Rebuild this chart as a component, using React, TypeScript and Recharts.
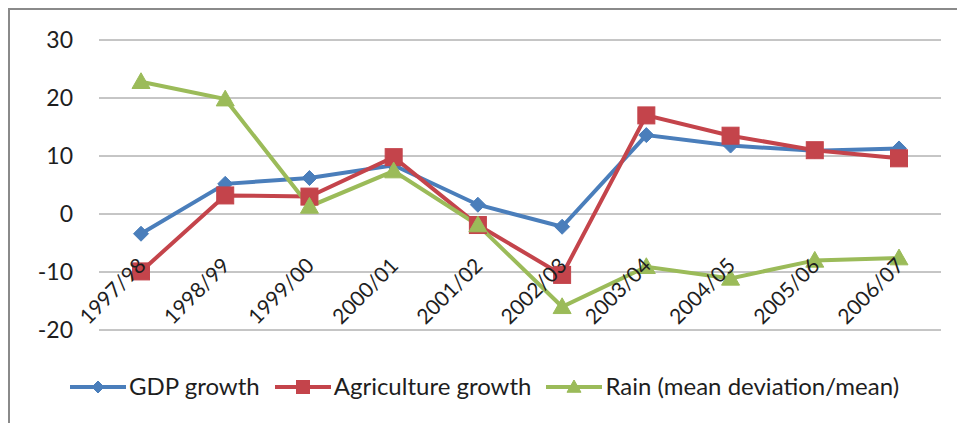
import React from "react";
import { LineChart, Line, XAxis, YAxis, CartesianGrid, Legend } from "recharts";

const years = ["1997/98", "1998/99", "1999/00", "2000/01", "2001/02", "2002/03", "2003/04", "2004/05", "2005/06", "2006/07"];
const gdpGrowth = [-3.4, 5.2, 6.2, 8.4, 1.6, -2.2, 13.6, 11.8, 10.9, 11.3];
const agricultureGrowth = [-9.9, 3.2, 3.0, 9.8, -1.9, -10.5, 17.0, 13.5, 11.0, 9.6];
const rain = [22.8, 19.8, 1.3, 7.4, -1.9, -16.0, -9.1, -11.1, -8.0, -7.6];
const yTicks = [-20, -10, 0, 10, 20, 30];

const data = years.map((year, i) => ({
  year,
  gdp: gdpGrowth[i],
  agri: agricultureGrowth[i],
  rain: rain[i],
}));

const BLUE = "#4A7EBB";
const RED = "#C4444B";
const GREEN = "#9BBB59";
const FONT = "Lato, 'Noto Sans', sans-serif";
const TEXT = "#1e1e1e";

const Diamond = (props: any) => {
  const { cx, cy, color, size = 7.5 } = props;
  if (cx == null || cy == null) return null;
  const r = size;
  return <path d={`M${cx},${cy - r} L${cx + r},${cy} L${cx},${cy + r} L${cx - r},${cy} Z`} fill={color} stroke={color} strokeWidth={1} />;
};
const Square = (props: any) => {
  const { cx, cy, color, size = 8.5 } = props;
  if (cx == null || cy == null) return null;
  const r = size;
  return <rect x={cx - r} y={cy - r} width={2 * r} height={2 * r} fill={color} stroke={color} strokeWidth={1} />;
};
const Triangle = (props: any) => {
  const { cx, cy, color, size = 9 } = props;
  if (cx == null || cy == null) return null;
  const r = size;
  return <path d={`M${cx},${cy - r} L${cx + r},${cy + r * 0.75} L${cx - r},${cy + r * 0.75} Z`} fill={color} stroke={color} strokeWidth={1} />;
};

const XTick = (props: any) => {
  const { x, y, payload } = props;
  const ex = x + 6;
  const ey = y - 71;
  return (
    <text x={ex} y={ey} transform={`rotate(-45, ${ex}, ${ey})`} textAnchor="end" fontSize={21} fontFamily={FONT} fill={TEXT}>
      {payload.value}
    </text>
  );
};

const YTick = (props: any) => {
  const { x, y, payload } = props;
  return (
    <text x={x} y={y} dy="0.36em" textAnchor="end" fontSize={23} fontFamily={FONT} fill={TEXT}>
      {payload.value}
    </text>
  );
};

const legendItems = [
  { label: "GDP growth", color: BLUE, shape: "diamond" },
  { label: "Agriculture growth", color: RED, shape: "square" },
  { label: "Rain (mean deviation/mean)", color: GREEN, shape: "triangle" },
];

const LegendIcon = ({ color, shape }: { color: string; shape: string }) => (
  <svg width={56} height={20} style={{ display: "block" }}>
    <line x1={0} y1={11} x2={56} y2={11} stroke={color} strokeWidth={4} />
    {shape === "diamond" && <Diamond cx={28} cy={11} color={color} size={6} />}
    {shape === "square" && <Square cx={28} cy={11} color={color} size={6.5} />}
    {shape === "triangle" && <Triangle cx={28} cy={11} color={color} size={7} />}
  </svg>
);

const LegendContent = () => (
  <div style={{ display: "flex", alignItems: "center", paddingLeft: 70, fontFamily: FONT, fontSize: 24, color: TEXT, whiteSpace: "nowrap" }}>
    {legendItems.map((it) => (
      <div key={it.label} style={{ display: "flex", alignItems: "center", marginRight: 15 }}>
        <LegendIcon color={it.color} shape={it.shape} />
        <span style={{ marginLeft: 3 }}>{it.label}</span>
      </div>
    ))}
  </div>
);

export default function App() {
  return (
    <div style={{ position: "absolute", left: 0, top: 0, width: 957, height: 423, background: "#fff" }}>
      <div style={{ position: "absolute", left: 8, top: 8, width: 949, height: 415, borderLeft: "2px solid #8a8a8a", borderTop: "2px solid #8a8a8a", boxSizing: "border-box" }} />
      <LineChart width={957} height={423} data={data} margin={{ top: 40, right: 16, bottom: 0, left: 0 }} style={{ position: "absolute", left: 0, top: 0 }}>
        <CartesianGrid horizontal vertical={false} stroke="#8c8c8c" strokeWidth={1} />
        <XAxis dataKey="year" height={93} axisLine={false} tickLine={false} tick={<XTick />} interval={0} padding={{ left: 42, right: 42 }} />
        <YAxis domain={[-20, 30]} ticks={yTicks} width={99} axisLine={false} tickLine={false} tickSize={0} tickMargin={26} tick={<YTick />} />
        <Legend content={<LegendContent />} wrapperStyle={{ position: "absolute", left: 0, top: 371, width: 957, height: 0 }} />
        <Line dataKey="gdp" stroke={BLUE} strokeWidth={4} dot={<Diamond color={BLUE} />} isAnimationActive={false} />
        <Line dataKey="agri" stroke={RED} strokeWidth={4} dot={<Square color={RED} />} isAnimationActive={false} />
        <Line dataKey="rain" stroke={GREEN} strokeWidth={4} dot={<Triangle color={GREEN} />} isAnimationActive={false} />
      </LineChart>
    </div>
  );
}
